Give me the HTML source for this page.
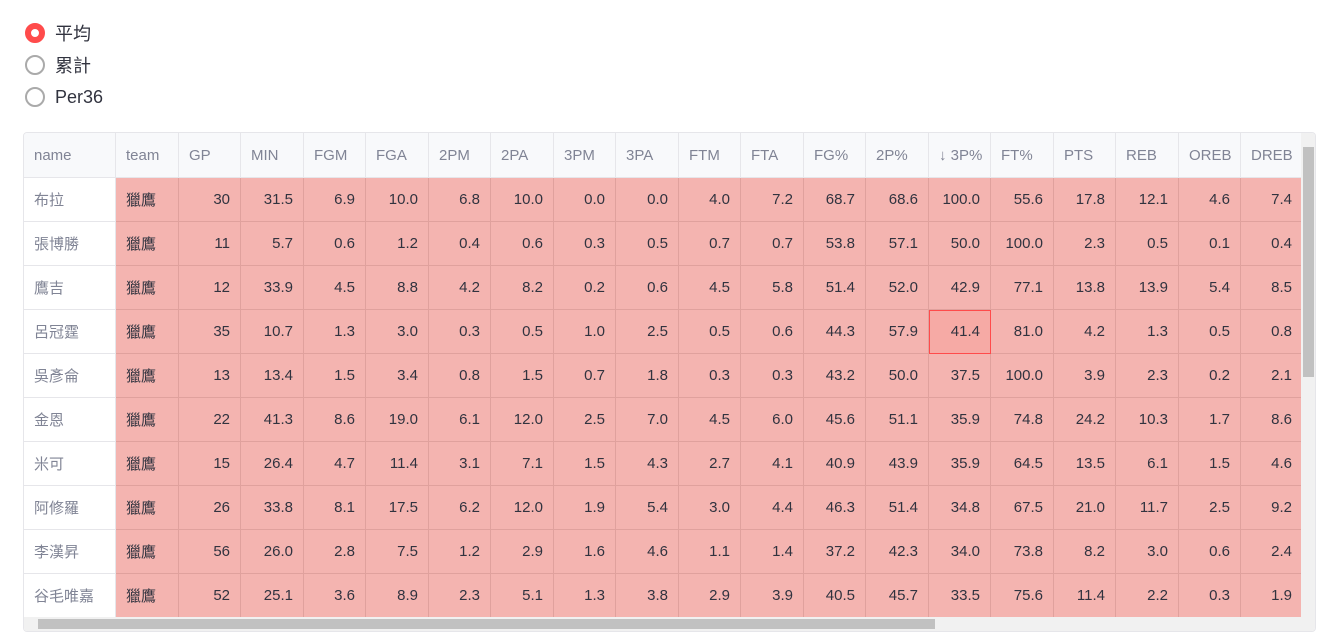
<!DOCTYPE html>
<html><head><meta charset="utf-8"><style>
body{margin:0;width:1327px;height:639px;background:#fff;font-family:"Liberation Sans","Noto Sans CJK TC",sans-serif;overflow:hidden;position:relative;color:#31333f}
.r{position:absolute;left:25px;font-size:18px;height:24px;display:flex;align-items:center}
.r i{width:20px;height:20px;border-radius:50%;border:2px solid #aaa;box-sizing:border-box;margin-right:10px;display:inline-block}
.r i.on{border:6px solid #ff4b4b;background:#fff}
.box{position:absolute;left:23px;top:132px;width:1293px;height:500px;border:1px solid #e6e6ea;border-radius:4px;overflow:hidden;box-sizing:border-box}
table{position:absolute;left:-1px;top:-1px;border-collapse:collapse;table-layout:fixed;width:1278px;font-size:15px}
td,th{height:44px;border:1px solid #e0a19d;padding:0 10px;white-space:nowrap;overflow:hidden;box-sizing:border-box}
th{background:#f8f9fb;color:#808495;font-weight:normal;text-align:left;border-color:#e6e6ea;height:45px}
td{background:#f4b4b0;text-align:right;color:#31333f}
td.n{background:#fff;color:#808495;text-align:left;border-color:#e6e6ea}
td.t{text-align:left}
td.sel{outline:1px solid #ff4b4b;outline-offset:-1px;background:#f6aaa5}
.vs{position:absolute;left:1277px;top:0;width:15px;height:484px;background:#f1f1f1}
.vs div{position:absolute;left:2px;top:14px;width:11px;height:230px;background:#c1c1c1}
.hs{position:absolute;left:0;top:484px;width:1292px;height:15px;background:#f1f1f1}
.hs div{position:absolute;left:14px;top:2px;width:897px;height:10px;background:#c1c1c1}
</style></head><body>
<div class="r" style="top:21px"><i class="on"></i>平均</div>
<div class="r" style="top:53px"><i></i>累計</div>
<div class="r" style="top:85px"><i></i>Per36</div>
<div class="box">
<table>
<colgroup><col style="width:92px"><col style="width:63px"><col style="width:62px"><col style="width:63px"><col style="width:62px"><col style="width:63px"><col style="width:62px"><col style="width:63px"><col style="width:62px"><col style="width:63px"><col style="width:62px"><col style="width:63px"><col style="width:62px"><col style="width:63px"><col style="width:62px"><col style="width:63px"><col style="width:62px"><col style="width:63px"><col style="width:62px"><col style="width:62px"></colgroup>
<tr><th>name</th><th>team</th><th>GP</th><th>MIN</th><th>FGM</th><th>FGA</th><th>2PM</th><th>2PA</th><th>3PM</th><th>3PA</th><th>FTM</th><th>FTA</th><th>FG%</th><th>2P%</th><th>↓ 3P%</th><th>FT%</th><th>PTS</th><th>REB</th><th>OREB</th><th>DREB</th></tr>
<tr><td class="n">布拉</td><td class="t">獵鷹</td><td>30</td><td>31.5</td><td>6.9</td><td>10.0</td><td>6.8</td><td>10.0</td><td>0.0</td><td>0.0</td><td>4.0</td><td>7.2</td><td>68.7</td><td>68.6</td><td>100.0</td><td>55.6</td><td>17.8</td><td>12.1</td><td>4.6</td><td>7.4</td></tr>
<tr><td class="n">張博勝</td><td class="t">獵鷹</td><td>11</td><td>5.7</td><td>0.6</td><td>1.2</td><td>0.4</td><td>0.6</td><td>0.3</td><td>0.5</td><td>0.7</td><td>0.7</td><td>53.8</td><td>57.1</td><td>50.0</td><td>100.0</td><td>2.3</td><td>0.5</td><td>0.1</td><td>0.4</td></tr>
<tr><td class="n">鷹吉</td><td class="t">獵鷹</td><td>12</td><td>33.9</td><td>4.5</td><td>8.8</td><td>4.2</td><td>8.2</td><td>0.2</td><td>0.6</td><td>4.5</td><td>5.8</td><td>51.4</td><td>52.0</td><td>42.9</td><td>77.1</td><td>13.8</td><td>13.9</td><td>5.4</td><td>8.5</td></tr>
<tr><td class="n">呂冠霆</td><td class="t">獵鷹</td><td>35</td><td>10.7</td><td>1.3</td><td>3.0</td><td>0.3</td><td>0.5</td><td>1.0</td><td>2.5</td><td>0.5</td><td>0.6</td><td>44.3</td><td>57.9</td><td class="sel">41.4</td><td>81.0</td><td>4.2</td><td>1.3</td><td>0.5</td><td>0.8</td></tr>
<tr><td class="n">吳彥侖</td><td class="t">獵鷹</td><td>13</td><td>13.4</td><td>1.5</td><td>3.4</td><td>0.8</td><td>1.5</td><td>0.7</td><td>1.8</td><td>0.3</td><td>0.3</td><td>43.2</td><td>50.0</td><td>37.5</td><td>100.0</td><td>3.9</td><td>2.3</td><td>0.2</td><td>2.1</td></tr>
<tr><td class="n">金恩</td><td class="t">獵鷹</td><td>22</td><td>41.3</td><td>8.6</td><td>19.0</td><td>6.1</td><td>12.0</td><td>2.5</td><td>7.0</td><td>4.5</td><td>6.0</td><td>45.6</td><td>51.1</td><td>35.9</td><td>74.8</td><td>24.2</td><td>10.3</td><td>1.7</td><td>8.6</td></tr>
<tr><td class="n">米可</td><td class="t">獵鷹</td><td>15</td><td>26.4</td><td>4.7</td><td>11.4</td><td>3.1</td><td>7.1</td><td>1.5</td><td>4.3</td><td>2.7</td><td>4.1</td><td>40.9</td><td>43.9</td><td>35.9</td><td>64.5</td><td>13.5</td><td>6.1</td><td>1.5</td><td>4.6</td></tr>
<tr><td class="n">阿修羅</td><td class="t">獵鷹</td><td>26</td><td>33.8</td><td>8.1</td><td>17.5</td><td>6.2</td><td>12.0</td><td>1.9</td><td>5.4</td><td>3.0</td><td>4.4</td><td>46.3</td><td>51.4</td><td>34.8</td><td>67.5</td><td>21.0</td><td>11.7</td><td>2.5</td><td>9.2</td></tr>
<tr><td class="n">李漢昇</td><td class="t">獵鷹</td><td>56</td><td>26.0</td><td>2.8</td><td>7.5</td><td>1.2</td><td>2.9</td><td>1.6</td><td>4.6</td><td>1.1</td><td>1.4</td><td>37.2</td><td>42.3</td><td>34.0</td><td>73.8</td><td>8.2</td><td>3.0</td><td>0.6</td><td>2.4</td></tr>
<tr><td class="n">谷毛唯嘉</td><td class="t">獵鷹</td><td>52</td><td>25.1</td><td>3.6</td><td>8.9</td><td>2.3</td><td>5.1</td><td>1.3</td><td>3.8</td><td>2.9</td><td>3.9</td><td>40.5</td><td>45.7</td><td>33.5</td><td>75.6</td><td>11.4</td><td>2.2</td><td>0.3</td><td>1.9</td></tr>
<tr><td class="n"></td><td class="t"></td><td></td><td></td><td></td><td></td><td></td><td></td><td></td><td></td><td></td><td></td><td></td><td></td><td></td><td></td><td></td><td></td><td></td><td></td></tr>
</table>
<div class="vs"><div></div></div>
<div class="hs"><div></div></div>
</div>
</body></html>
